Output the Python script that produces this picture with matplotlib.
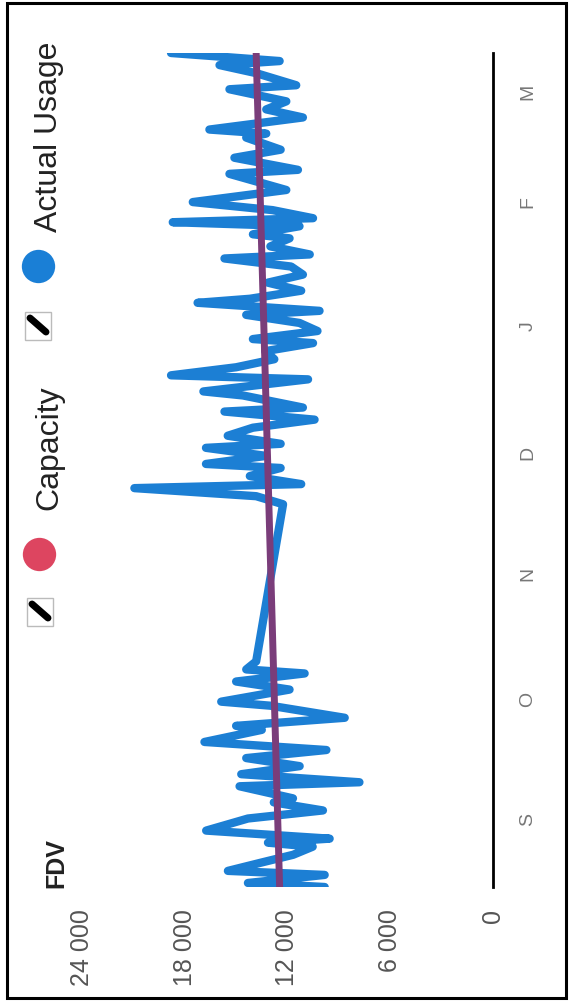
import matplotlib.pyplot as plt
from matplotlib.patches import Rectangle
from matplotlib.lines import Line2D

plt.rcParams['font.family'] = ['Liberation Sans', 'DejaVu Sans']

# days counted from 1 September
usage_days = [-17, -16, -14, -13, -11, -9, -7, -6, -5, -3, 0, 2, 4, 5, 8, 9, 11, 13, 15, 17,
              19, 22, 23, 25, 28, 29, 32, 34, 36, 37, 39,
              78, 80, 82, 83, 85, 87, 88, 90, 92, 93, 95, 97, 99, 101, 102, 105, 106, 109, 110, 112,
              114, 116, 118, 119, 121, 123, 125, 126, 128, 129, 131, 133, 135, 137, 139, 140, 142, 144,
              145, 147, 148, 149, 151, 153, 156, 160, 161, 164, 166, 169, 170, 171, 174, 176, 178, 181,
              182, 185, 187, 188, 190]
usage_vals = [9830, 14310, 9830, 15480, 13590, 11670, 10530, 13140, 9540, 16750, 14310, 9930, 12800,
              11680, 14800, 7800, 14700, 11290, 14410, 9730, 16850, 13500, 15000, 8660, 13000, 15870,
              11880, 15000, 11000, 14410, 13830,
              12260, 13830, 20940, 11200, 14200, 12400, 16760, 13240, 16760, 12400, 15490, 14020, 10420,
              15680, 11100, 14600, 16910, 10800, 18800, 15000, 12770, 13300, 10510, 14020, 10250, 11300,
              14410, 10130, 17250, 14200, 11200, 13150, 11100, 11790, 15680, 10700, 13000, 11880, 14020,
              11300, 18700, 10510, 12870, 17530, 12070, 15390, 11390, 15100, 12400, 14410, 13240, 16560,
              11100, 13240, 12070, 15390, 11490, 13830, 15970, 12460, 18800]

cap_days = [-17, 190]
cap_vals = [12460, 13830]

month_days = [0, 30, 61, 91, 122, 153, 181]
month_labels = ['S', 'O', 'N', 'D', 'J', 'F', 'M']
value_ticks = [0, 6000, 12000, 18000, 24000]
value_labels = ['0', '6 000', '12 000', '18 000', '24 000']

W, H = 570, 1003


def px(x, y):
    # image pixel -> figure fraction
    return x / W, 1 - y / H


fig = plt.figure(figsize=(W / 100, H / 100), dpi=100)
ax = fig.add_axes([82 / W, 1 - 888 / H, (493 - 82) / W, (888 - 54) / H])

# chart is drawn turned on its side: values run right to left, time runs upward
ax.plot(usage_vals, usage_days, color='#1c7fd4', lw=6,
        solid_capstyle='round', solid_joinstyle='round', zorder=2)
ax.plot(cap_vals, cap_days, color='#7a3d7a', lw=5, solid_capstyle='round', zorder=3)

ax.set_xlim(24000, 0)
ax.set_ylim(-17, 190)
for s in ['left', 'top', 'bottom']:
    ax.spines[s].set_visible(False)
ax.spines['right'].set_color('black')
ax.spines['right'].set_linewidth(2)

ax.set_xticks(value_ticks, value_labels)
ax.set_yticks(month_days, month_labels)
ax.yaxis.tick_right()
ax.tick_params(axis='x', length=0, labelrotation=90, pad=15, labelsize=18, labelcolor='#555555')
ax.tick_params(axis='y', length=0, labelrotation=90, pad=19, labelsize=14, labelcolor='#777777')

# title
fig.text(*px(56, 888), 'FDV', rotation=90, ha='center', va='bottom',
         fontsize=18, fontweight='bold', color='#222222')

# legend (rotated)
def checkbox(cx, cy):
    x0, y0 = px(cx - 13, cy + 14)
    fig.add_artist(Rectangle((x0, y0), 26 / W, 28 / H, transform=fig.transFigure,
                             facecolor='white', edgecolor='#bbbbbb', lw=1))
    a = px(cx - 8, cy - 8)
    b = px(cx + 8, cy + 6)
    fig.add_artist(Line2D([a[0], b[0]], [a[1], b[1]], color='black', lw=5,
                          solid_capstyle='round', transform=fig.transFigure))


def dot(cx, cy, color):
    x, y = px(cx, cy)
    fig.add_artist(Line2D([x], [y], marker='o', markersize=24, color=color,
                          markeredgewidth=0, transform=fig.transFigure))


checkbox(40, 613)
dot(39, 555, '#dd4560')
fig.text(*px(49, 510), 'Capacity', rotation=90, ha='center', va='bottom',
         fontsize=23, color='#222222')
checkbox(38, 327)
dot(38, 267, '#1a7fd6')
fig.text(*px(49, 232), 'Actual Usage', rotation=90, ha='center', va='bottom',
         fontsize=23, color='#222222')

# frame round the scan
fx, fy = px(7, 999)
fig.add_artist(Rectangle((fx, fy), (566 - 7) / W, (999 - 4) / H, transform=fig.transFigure,
                         fill=False, edgecolor='black', lw=2.2))

fig.savefig('out.png', dpi=100)
